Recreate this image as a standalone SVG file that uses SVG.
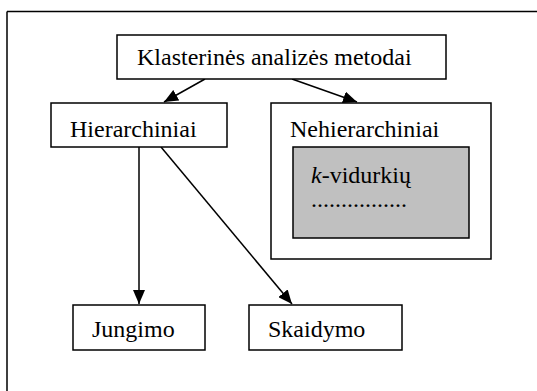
<svg xmlns="http://www.w3.org/2000/svg" width="537" height="391" viewBox="0 0 537 391">
<style>
.box{fill:#fff;stroke:#000;stroke-width:1.5}
.gray{fill:#c0c0c0;stroke:#000;stroke-width:1.5}
.t{font-family:'Times New Roman','Liberation Serif',Tinos,'DejaVu Serif','Noto Serif',serif;font-size:24px;fill:#000}
.c{stroke:#000;stroke-width:1.5;fill:none}
</style>
<defs>
<marker id="ah" viewBox="0 0 14 12" refX="14" refY="6" markerWidth="14" markerHeight="12" markerUnits="userSpaceOnUse" orient="auto">
<path d="M0,0 L14,6 L0,12 Z" fill="#000"/>
</marker>
</defs>
<g id="frame">
<path class="c" d="M7,11.5 H537 M7,11.5 V391"/>
</g>
<g id="connectors">
<line class="c" x1="205" y1="79" x2="164" y2="102" marker-end="url(#ah)"/>
<line class="c" x1="292" y1="79" x2="357" y2="102" marker-end="url(#ah)"/>
<line class="c" x1="139" y1="147" x2="139" y2="304" marker-end="url(#ah)"/>
<line class="c" x1="161" y1="147" x2="292" y2="304" marker-end="url(#ah)"/>
</g>
<g id="n-root">
<rect class="box" x="117" y="35" width="329" height="44"/>
<text class="t" x="137" y="65">Klasterinės analizės metodai</text>
</g>
<g id="n-hier">
<rect class="box" x="51" y="103" width="176" height="44"/>
<text class="t" x="70" y="137">Hierarchiniai</text>
</g>
<g id="n-nehier">
<rect class="box" x="271" y="103" width="220" height="156"/>
<text class="t" x="290" y="137">Nehierarchiniai</text>
</g>
<g id="n-kvid">
<rect class="gray" x="293" y="147" width="176" height="91"/>
<text class="t" x="311" y="183"><tspan font-style="italic">k</tspan>-vidurkių</text>
<text class="t" x="311" y="207">................</text>
</g>
<g id="n-jung">
<rect class="box" x="73" y="305" width="132" height="45"/>
<text class="t" x="92" y="337">Jungimo</text>
</g>
<g id="n-skaid">
<rect class="box" x="249" y="305" width="153" height="45"/>
<text class="t" x="268" y="337">Skaidymo</text>
</g>
</svg>
